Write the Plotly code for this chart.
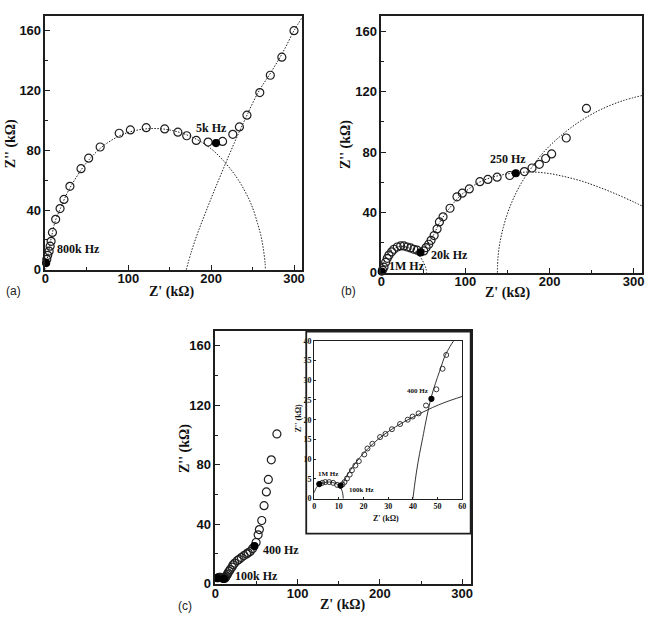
import plotly.graph_objects as go

# ---------------- data ----------------
# Panel (a)
a_zr = [1.6, 2.7, 4.4, 5.6, 6.8, 8.4, 12.3, 17.6, 22.3, 29.5, 42.9, 52.1, 66.0, 89.0, 102.5,
        121.6, 143.9, 159.8, 170.5, 182.0, 196.3, 213.8, 226.1, 234.1, 243.2, 258.7, 271.4, 285.3, 300.0]
a_zi = [7.0, 9.7, 12.5, 15.8, 19.1, 25.0, 33.8, 41.0, 47.1, 55.9, 67.7, 74.7, 82.2, 91.4, 93.6,
        95.1, 94.3, 92.1, 89.7, 86.6, 85.5, 85.9, 90.7, 95.6, 103.5, 118.6, 130.2, 142.3, 160.0]
a_mark_zr = [0.8, 205.9]
a_mark_zi = [4.5, 84.8]
a_fit1_zr = [0, 2, 5, 8, 12, 18, 25, 35, 50, 70, 95, 125, 155, 180, 200, 218, 233, 245, 251, 256, 260, 263, 265, 265.5]
a_fit1_zi = [0, 7, 16, 24, 33, 41, 50, 60, 72, 83, 91, 94.5, 93, 88, 81, 71, 60, 48, 40, 31, 23, 14, 5, 0]
a_fit2_zr = [170, 176, 184, 193, 203, 215, 228, 242, 257, 272, 287, 300, 310]
a_fit2_zi = [0, 12, 25, 38, 52, 68, 85, 102, 119, 132, 146, 160, 169]

# Panel (b)
b_zr = [1.5, 3.2, 5.2, 7.1, 9.1, 12.3, 15.0, 19.0, 23.0, 26.9, 30.8, 34.8, 38.7, 42.6, 50.5,
        53.3, 56.4, 59.2, 62.8, 66.3, 69.1, 73.4, 81.7, 90.0, 96.3, 104.6, 117.2, 126.7, 137.7,
        152.7, 170.1, 179.2, 187.9, 195.4, 202.5, 219.9, 243.9]
b_zi = [1.8, 3.7, 7.0, 9.6, 11.7, 13.9, 15.6, 17.1, 17.8, 17.8, 17.1, 16.5, 15.6, 15.0, 14.5,
        16.7, 18.9, 21.5, 24.7, 29.1, 33.7, 37.1, 42.8, 50.4, 52.8, 55.6, 60.4, 61.9, 63.4,
        64.5, 67.1, 69.5, 71.9, 75.8, 78.8, 89.4, 109.0]
b_mark_zr = [0.5, 46.6, 159.9]
b_mark_zi = [0.8, 13.5, 66.0]
b_fit1_zr = [0, 3, 8, 15, 22, 30, 38, 45, 50, 53, 54]
b_fit1_zi = [0, 7, 12.5, 16, 17.5, 17, 15, 11.5, 7, 3, 0]
b_fit2_zr = [48, 55, 62, 70, 80, 92, 105, 120, 140, 160, 180, 200, 220, 240, 260, 280, 300, 311]
b_fit2_zi = [13, 19, 25, 34, 42, 50, 56, 61, 64.5, 66.3, 66.8, 65.8, 63.5, 60.5, 56.5, 52, 47, 44]
b_fit3_zr = [138, 138.7, 141, 145, 150.4, 157.7, 167, 179, 193, 211.5, 235, 260, 286.5, 311]
b_fit3_zi = [0, 10, 20, 30, 40, 50, 60, 70, 80, 90, 100, 108, 114, 117.7]

# Panel (c) and inset
c_zr = [3.3, 4.5, 6.1, 7.7, 9.3, 11.5, 12.3, 13.3, 14.4, 15.3, 16.7, 18.1, 20.3, 21.6, 23.6,
        26.7, 28.9, 31.5, 34.8, 37.9, 39.9, 42.3, 45.3, 49.5, 52.0, 53.5, 56.4, 59.2, 62.0,
        64.4, 68.0, 74.8]
c_zi = [4.0, 4.2, 4.2, 4.0, 3.5, 3.6, 4.2, 5.1, 6.1, 7.2, 8.4, 9.5, 11.2, 12.7, 13.9,
        15.6, 16.4, 17.6, 18.9, 20.0, 20.8, 21.6, 23.6, 27.7, 32.9, 36.4, 42.5, 52.5, 61.7,
        70.1, 83.3, 100.7]
c_mark_zr = [2.1, 10.7, 47.5]
c_mark_zi = [3.7, 3.3, 25.3]
ins_fit1_zr = [0, 1, 2.5, 5, 7.5, 9.5, 11, 11.6, 11.8]
ins_fit1_zi = [1.5, 2.9, 3.7, 4.2, 4.1, 3.6, 2.5, 1.2, 0]
ins_fit2_zr = [10.5, 12, 14, 17, 20, 24, 28, 33, 38, 43, 48, 53, 60]
ins_fit2_zi = [2.5, 4.3, 6.6, 9.2, 11.5, 14.0, 16.1, 18.2, 20.0, 21.6, 23.1, 24.4, 25.9]
ins_fit3_zr = [40, 40.6, 41.5, 42.7, 44, 45.3, 47.5, 50.7, 53.1, 55.0, 56.5]
ins_fit3_zi = [0, 3, 7, 11.4, 15.5, 19.7, 25.9, 32.1, 36.3, 38.5, 40]

main_xticks = [0, 100, 200, 300]
main_yticks = [0, 40, 80, 120, 160]
ins_xticks = [0, 10, 20, 30, 40, 50, 60]
ins_yticks = [0, 5, 10, 15, 20, 25, 30, 35, 40]

# ---------------- figure ----------------
W, H = 650, 628
INK = "#1e1e1e"
fig = go.Figure()

def px(x):
    return x / W

def py(y):
    return 1 - y / H

def fitline(x, y, xa, ya, dash="1.5px,1.5px", width=1.0):
    fig.add_trace(go.Scatter(x=x, y=y, xaxis=xa, yaxis=ya, mode="lines",
                             line=dict(color=INK, width=width, dash=dash, shape="spline", smoothing=1.0),
                             hoverinfo="skip", showlegend=False))

def points(x, y, xa, ya, size, filled=False, lw=1.2):
    fig.add_trace(go.Scatter(x=x, y=y, xaxis=xa, yaxis=ya, mode="markers", cliponaxis=False,
                             marker=dict(symbol="circle" if filled else "circle-open", size=size,
                                         color="#000000" if filled else INK,
                                         line=dict(color="#000000" if filled else INK, width=lw)),
                             showlegend=False))

fitline(a_fit1_zr, a_fit1_zi, "x", "y")
fitline(a_fit2_zr, a_fit2_zi, "x", "y")
points(a_zr, a_zi, "x", "y", 8)
points(a_mark_zr, a_mark_zi, "x", "y", 7, filled=True)

fitline(b_fit1_zr, b_fit1_zi, "x2", "y2")
fitline(b_fit2_zr, b_fit2_zi, "x2", "y2")
fitline(b_fit3_zr, b_fit3_zi, "x2", "y2")
points(b_zr, b_zi, "x2", "y2", 8)
points(b_mark_zr, b_mark_zi, "x2", "y2", 7, filled=True)

points(c_zr, c_zi, "x3", "y3", 8)
points(c_mark_zr, c_mark_zi, "x3", "y3", 7, filled=True)

fitline(ins_fit1_zr, ins_fit1_zi, "x4", "y4", dash="solid", width=0.9)
fitline(ins_fit2_zr, ins_fit2_zi, "x4", "y4", dash="solid", width=0.9)
fitline(ins_fit3_zr, ins_fit3_zi, "x4", "y4", dash="solid", width=0.9)
points(c_zr, c_zi, "x4", "y4", 5, lw=0.9)
points(c_mark_zr, c_mark_zi, "x4", "y4", 5, filled=True)

tickfont = dict(family="Liberation Sans", size=13, color="#111111", weight="bold")

def main_axis(domain, ticks, minor, rng, anchor, standoff=0):
    return dict(domain=domain, range=rng, anchor=anchor, tickvals=ticks, ticks="inside",
                ticklen=5, tickwidth=1.3, tickcolor=INK, showline=True, linecolor=INK,
                linewidth=1.6, mirror=True, showgrid=False, zeroline=False, tickfont=tickfont,
                ticklabelstandoff=standoff,
                minor=dict(dtick=minor, tick0=0, ticks="inside", ticklen=3, tickwidth=1,
                           tickcolor=INK, showgrid=False),
                fixedrange=True)

inset_font = dict(family="Liberation Serif", size=8, color="#111111", weight="bold")

def inset_axis(domain, ticks, rng, anchor):
    return dict(domain=domain, range=rng, anchor=anchor, tickvals=ticks, ticks="inside",
                ticklen=2, tickwidth=1, tickcolor=INK, showline=True, linecolor=INK,
                linewidth=1.3, mirror=True, showgrid=False, zeroline=False,
                tickfont=inset_font, fixedrange=True)

fig.update_layout(
    width=W, height=H, margin=dict(l=0, r=0, t=0, b=0),
    paper_bgcolor="white", plot_bgcolor="rgba(0,0,0,0)", showlegend=False,
    xaxis=main_axis([px(42), px(302)], main_xticks, 50, [0, 310], "y", -4),
    yaxis=main_axis([py(271), py(12)], main_yticks, 20, [0, 170], "x"),
    xaxis2=main_axis([px(382), px(646)], main_xticks, 50, [0, 310], "y2", -4),
    yaxis2=main_axis([py(274), py(12.7)], main_yticks, 20, [0, 170], "x2"),
    xaxis3=main_axis([px(214), px(473)], main_xticks, 50, [0, 311], "y3", -3),
    yaxis3=main_axis([py(591), py(333.3)], main_yticks, 20, [0, 170], "x3"),
    xaxis4=inset_axis([px(314), px(464)], ins_xticks, [0, 60], "y4"),
    yaxis4=inset_axis([py(504.3), py(343.3)], ins_yticks, [0, 40], "x4"),
)

# inset box
fig.add_shape(type="rect", xref="paper", yref="paper", x0=px(306), x1=px(472.5),
              y0=py(540), y1=py(334), line=dict(color=INK, width=1.8), layer="above")

title_font = dict(family="Liberation Serif", size=14, color="#111111", weight="bold")
lab_font = dict(family="Liberation Serif", size=12, color="#111111", weight="bold")
small_font = dict(family="Liberation Serif", size=7, color="#111111", weight="bold")
panel_font = dict(family="Liberation Sans", size=12, color="#222222")

def ptxt(x, y, text, font, angle=0, xanchor="center"):
    fig.add_annotation(x=px(x), y=py(y), xref="paper", yref="paper", text=text, showarrow=False,
                       font=font, textangle=angle, xanchor=xanchor, yanchor="middle")

def dtxt(x, y, xa, ya, text, font, xanchor="center"):
    fig.add_annotation(x=x, y=y, xref=xa, yref=ya, text=text, showarrow=False, font=font,
                       xanchor=xanchor, yanchor="middle")

# axis titles
ptxt(170, 294, "Z' (kΩ)", title_font)
ptxt(7, 142, "Z'' (kΩ)", title_font, angle=-90)
ptxt(510, 295, "Z' (kΩ)", title_font)
ptxt(347, 143, "Z'' (kΩ)", title_font, angle=-90)
ptxt(343, 613, "Z' (kΩ)", title_font)
ptxt(184, 453, "Z'' (kΩ)", title_font, angle=-90)
ptxt(387, 525, "Z' (kΩ)", dict(small_font, size=8))
ptxt(299, 422, "Z'' (kΩ)", dict(small_font, size=8), angle=-90)

# panel labels
ptxt(10, 293, "(a)", panel_font)
ptxt(349, 293, "(b)", panel_font)
ptxt(183, 614, "(c)", panel_font)

# frequency labels
dtxt(200, 95, "x", "y", "5k Hz", lab_font)
dtxt(12, 14, "x", "y", "800k Hz", lab_font, xanchor="left")
dtxt(151, 75.3, "x2", "y2", "250 Hz", lab_font)
dtxt(80.5, 11.7, "x2", "y2", "20k Hz", lab_font)
dtxt(30.8, 4.8, "x2", "y2", "1M Hz", lab_font)
dtxt(56, 22.7, "x3", "y3", "400 Hz", lab_font, xanchor="left")
dtxt(22, 5.1, "x3", "y3", "100k Hz", lab_font, xanchor="left")
dtxt(5.7, 6.3, "x4", "y4", "1M Hz", small_font)
dtxt(19, 2.3, "x4", "y4", "100k Hz", small_font)
dtxt(41.7, 27.2, "x4", "y4", "400 Hz", small_font)

fig.write_html("out.html")
